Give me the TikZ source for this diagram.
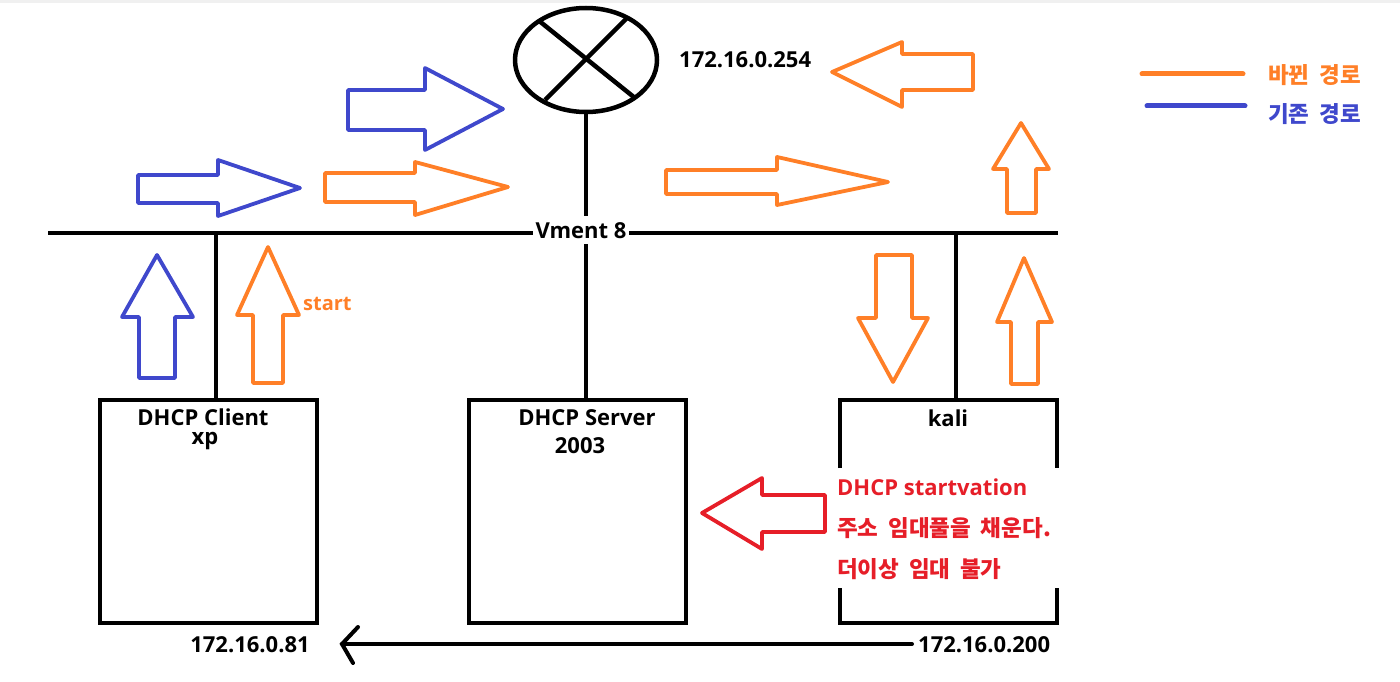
\documentclass[tikz,border=0pt]{standalone}
\usepackage{fontspec}
\setmainfont{Open Sans}
\newfontfamily\kr{Noto Sans CJK KR}[WordSpace=1.9]
\usetikzlibrary{shapes.geometric}
\definecolor{porange}{HTML}{FF7F27}
\definecolor{pblue}{HTML}{3F48CC}
\definecolor{pred}{HTML}{E61E28}
\tikzset{
  blk/.style={line width=4.5pt, black},
  fatarr/.style={line width=3.8pt, line join=round, line cap=round},
  oarr/.style={fatarr, draw=porange},
  barr/.style={fatarr, draw=pblue},
  rarr/.style={fatarr, draw=pred},
  hostbox/.style={draw, line width=4.5pt, minimum width=217pt, minimum height=223pt, inner sep=0pt},
  lbl/.style={font=\bfseries\fontsize{22}{24}\selectfont, inner sep=0pt},
  krl/.style={font=\kr\bfseries\fontsize{22.5}{24}\selectfont, inner sep=0pt},
}
\begin{document}
\begin{tikzpicture}[x=1pt,y=-1pt]
\useasboundingbox (0,0) rectangle (1400,682);
\fill[black!6] (0,0) rectangle (1400,3);

% router
\node[ellipse, draw, line width=4.5pt, minimum width=142pt, minimum height=104pt, inner sep=0pt] (router) at (586,60) {};
\draw[blk] (538,20) -- (635,98);
\draw[blk] (627,18) -- (545,100);
\node[lbl, anchor=base west] (gwip) at (679,68) {172.16.0.254};

% hosts
\node[hostbox] (client) at (208.5,511.5) {};
\node[hostbox] (server) at (577.5,511.5) {};
\node[minimum width=217pt, minimum height=223pt, inner sep=0pt] (kali) at (948.5,511.5) {};
\draw[blk] (840,468) -- (840,400) -- (1057,400) -- (1057,468);
\draw[blk] (840,588) -- (840,623) -- (1057,623) -- (1057,588);

% bus and drops
\coordinate (busL) at (48,233);
\coordinate (busR) at (1058,233);
\coordinate (tapC) at (216,233);
\coordinate (tapK) at (956,233);
\draw[blk] (busL) -- (busR);
\draw[blk] (tapC) -- (tapC |- client.north);
\draw[blk] (tapK) -- (tapK |- kali.north);
\draw[blk] (router.south) -- (router.south |- server.north);
\node[lbl, anchor=base, fill=white, inner xsep=3pt, inner ysep=6pt] (vment) at (581,238) {Vment 8};

% host labels
\node[lbl, anchor=base] (clientname) at (203,425) {DHCP Client};
\node[lbl, anchor=base] (clientos) at (205,444) {xp};
\node[lbl, anchor=base] (servername) at (587,425) {DHCP Server};
\node[lbl, anchor=base] (serveros) at (580,453) {2003};
\node[lbl, anchor=base] (kaliname) at (948,426) {kali};

% red text
\node[lbl, text=pred, anchor=base west] (t1) at (837,495) {DHCP startvation};
\node[krl, text=pred, anchor=base west] (t2) at (837,536) {주소 임대풀을 채운다.};
\node[krl, text=pred, anchor=base west] (t3) at (837,577) {더이상 임대 불가};

% bottom arrow
\node[lbl, anchor=base] (clientip) at (250,652) {172.16.0.81};
\node[lbl, anchor=base west] (kaliip) at (918,652) {172.16.0.200};
\coordinate (aEnd) at (912,644);
\coordinate (aTip) at (342,644);
\draw[blk, line width=4pt, line cap=round] (aEnd) -- (aTip);
\draw[blk, line width=4pt, line cap=round, line join=miter] (358,627) -- (aTip) -- (353,663);

% blue fat arrows
\draw[barr] (138,175)--(218,175)--(218,160)--(300,188)--(218,216)--(218,203)--(138,203)--cycle;
\draw[barr] (348,90)--(425,90)--(425,68)--(503,109)--(425,150)--(425,130)--(348,130)--cycle;
\draw[barr] (139,378)--(139,317)--(122,317)--(157,255)--(193,317)--(175,317)--(175,378)--cycle;

% orange fat arrows
\draw[oarr] (325,173)--(415,173)--(415,162)--(508,187)--(415,215)--(415,202)--(325,202)--cycle;
\draw[oarr] (666,170)--(777,170)--(777,157)--(888,182)--(777,205)--(777,194)--(666,194)--cycle;
\draw[oarr] (973,54)--(902,54)--(902,42)--(832,72)--(902,107)--(902,90)--(973,90)--cycle;
\draw[oarr] (1007,213)--(1007,169)--(993,169)--(1021,123)--(1049,169)--(1036,169)--(1036,213)--cycle;
\draw[oarr] (876,255)--(912,255)--(912,318)--(928,318)--(893,382)--(858,318)--(876,318)--cycle;
\draw[oarr] (1011,384)--(1011,322)--(997,322)--(1024,258)--(1052,322)--(1038,322)--(1038,384)--cycle;
\draw[oarr] (253,383)--(253,315)--(237,315)--(268,247)--(299,315)--(283,315)--(283,383)--cycle;
\node[lbl, text=porange, font=\bfseries\fontsize{20}{22}\selectfont, anchor=base west] (start) at (303,310) {start};

% red fat arrow
\draw[rarr] (825,495)--(762,495)--(762,478)--(702,513)--(762,549)--(762,532)--(825,532)--cycle;

% legend
\coordinate (lgO1) at (1142,74);
\coordinate (lgO2) at (1243,74);
\coordinate (lgB1) at (1147,106);
\coordinate (lgB2) at (1245,106);
\draw[porange, line width=5pt, line cap=round] (lgO1) -- (lgO2);
\draw[pblue, line width=5pt, line cap=round] (lgB1) -- (lgB2);
\node[krl, text=porange, anchor=base west] (lgOtext) at (1268,84) {바뀐 경로};
\node[krl, text=pblue, anchor=base west] (lgBtext) at (1268,123) {기존 경로};
\end{tikzpicture}
\end{document}
